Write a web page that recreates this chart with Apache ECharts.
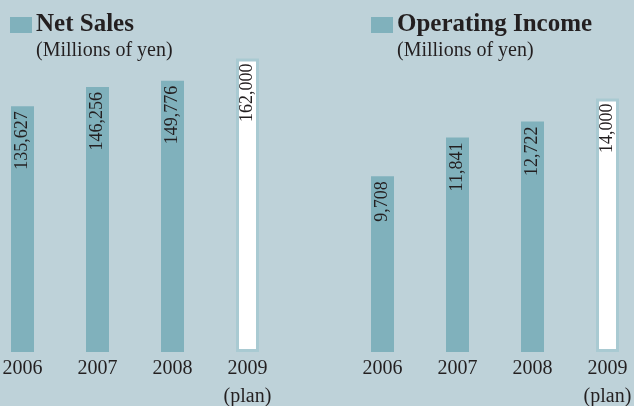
<!DOCTYPE html>
<html>
<head>
<meta charset="utf-8">
<script src="https://cdn.jsdelivr.net/npm/echarts@6/dist/echarts.min.js"></script>
<style>
html,body{margin:0;padding:0;background:#bed2d9;}
#chart{width:634px;height:406px;}
</style>
</head>
<body>
<div id="chart"></div>
<script>
var years = ['2006', '2007', '2008', '2009\n(plan)'];
var netSales = [135627, 146256, 149776, 162000];
var operatingIncome = [9708, 11841, 12722, 14000];
var planIndex = 3;
var titles = ['Net Sales', 'Operating Income'];
var unitLabel = '(Millions of yen)';

var FONT = '"Liberation Serif", "DejaVu Serif", serif';
var TEXT = '#231f20';
var BAR = '#80b1bc';
var BG = '#bed2d9';

function fmt(v) { return String(v).replace(/\B(?=(\d{3})+(?!\d))/g, ','); }

function buildData(arr) {
  return arr.map(function (v, i) {
    if (i === planIndex) {
      return { value: v, itemStyle: { color: '#ffffff', borderColor: '#a9cad2', borderWidth: 3 } };
    }
    return { value: v };
  });
}

var chart = echarts.init(document.getElementById('chart'), null, { renderer: 'canvas' });

var labelCfg = {
  show: true, position: 'insideTop', rotate: 90, align: 'right', verticalAlign: 'middle',
  distance: 5, fontSize: 18, fontFamily: FONT, color: TEXT,
  formatter: function (p) { return fmt(p.value); }
};

function xAxis(gi) {
  return {
    type: 'category', gridIndex: gi, data: years,
    axisLine: { show: false }, axisTick: { show: false },
    axisLabel: { fontSize: 20, fontFamily: FONT, color: TEXT, lineHeight: 28, margin: 3, interval: 0, hideOverlap: false }
  };
}
function yAxis(gi, max) {
  return { type: 'value', gridIndex: gi, min: 0, max: max, show: false, splitLine: { show: false } };
}

chart.setOption({
  backgroundColor: BG,
  animation: false,
  grid: [
    { left: -15, top: 26, width: 300, height: 326, containLabel: false, outerBoundsMode: 'none' },
    { left: 345, top: 26, width: 300, height: 326, containLabel: false, outerBoundsMode: 'none' }
  ],
  xAxis: [xAxis(0), xAxis(1)],
  yAxis: [yAxis(0, 180000), yAxis(1, 18000)],
  series: [
    { type: 'bar', xAxisIndex: 0, yAxisIndex: 0, data: buildData(netSales), barWidth: 23,
      itemStyle: { color: BAR }, label: labelCfg },
    { type: 'bar', xAxisIndex: 1, yAxisIndex: 1, data: buildData(operatingIncome), barWidth: 23,
      itemStyle: { color: BAR }, label: labelCfg }
  ],
  graphic: [
    { type: 'rect', shape: { x: 10, y: 17, width: 22, height: 16 }, style: { fill: BAR } },
    { type: 'text', x: 36, y: 24.5, style: { text: titles[0], font: 'bold 25px ' + FONT, fill: TEXT, textVerticalAlign: 'middle', verticalAlign: 'middle' } },
    { type: 'text', x: 36, y: 51, style: { text: unitLabel, font: '20px ' + FONT, fill: TEXT, textVerticalAlign: 'middle', verticalAlign: 'middle' } },
    { type: 'rect', shape: { x: 371, y: 17, width: 22, height: 16 }, style: { fill: BAR } },
    { type: 'text', x: 397, y: 24.5, style: { text: titles[1], font: 'bold 25px ' + FONT, fill: TEXT, textVerticalAlign: 'middle', verticalAlign: 'middle' } },
    { type: 'text', x: 397, y: 51, style: { text: unitLabel, font: '20px ' + FONT, fill: TEXT, textVerticalAlign: 'middle', verticalAlign: 'middle' } }
  ]
});
</script>
</body>
</html>
